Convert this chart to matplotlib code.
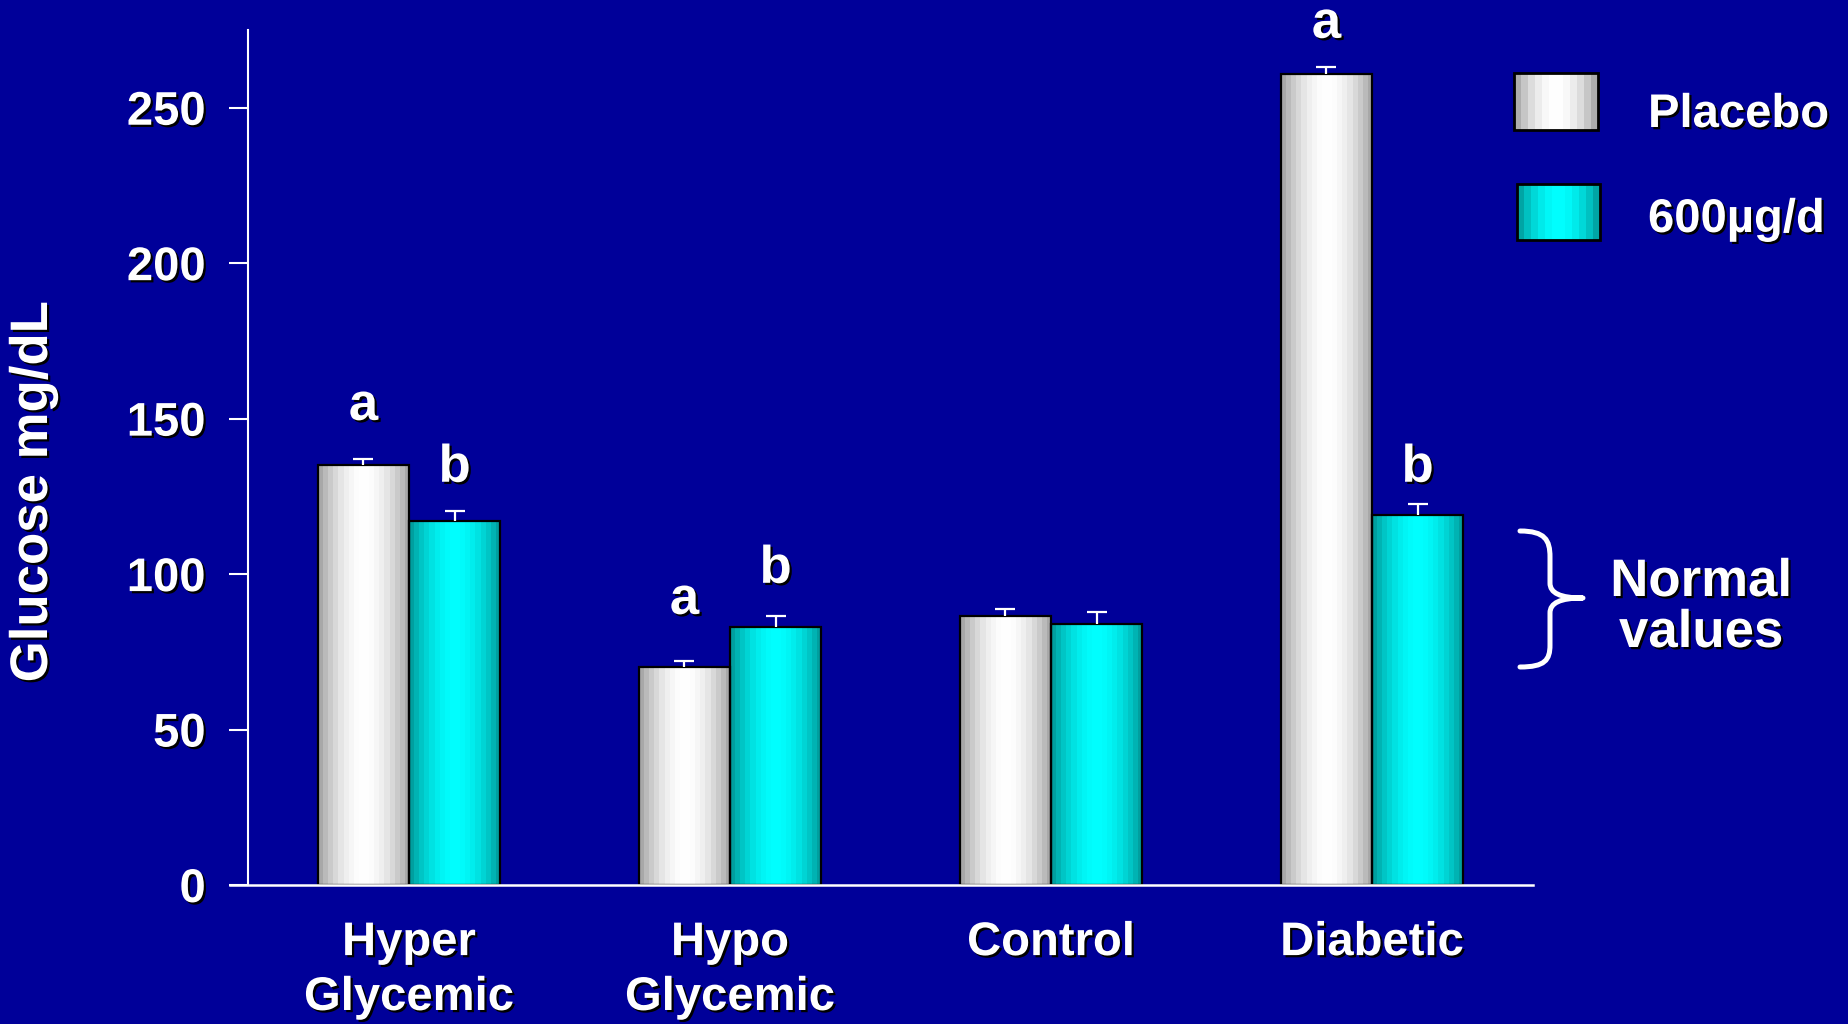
import numpy as np
import matplotlib
matplotlib.use("Agg")
import matplotlib.pyplot as plt
import matplotlib.patheffects as pe
from matplotlib.patches import Rectangle, PathPatch
from matplotlib.path import Path

# ------------------------------------------------------
# Data
# ------------------------------------------------------
groups = ["Hyper\nGlycemic", "Hypo\nGlycemic", "Control", "Diabetic"]
placebo = [135, 70, 86.5, 261]
placebo_err = [2.0, 2.0, 2.3, 2.2]
dose = [117, 83, 84, 119]
dose_err = [3.2, 3.5, 3.8, 3.4]
placebo_sig = ["a", "a", "", "a"]
dose_sig = ["b", "b", "", "b"]
placebo_sig_y = [149.6, 87.2, 0, 272.5]   # baseline of the letter
dose_sig_y = [129.7, 97.2, 0, 129.7]
series_names = ["Placebo", "600\u00b5g/d"]

BG = "#000099"
FONT = "Liberation Sans"
FS = 34
FS_BIG = 38
BAR_W = 0.284
CAP = 0.031
SHADOW = [pe.SimplePatchShadow(offset=(1.6, -1.6), shadow_rgbFace="black", alpha=1.0), pe.Normal()]

GRAY_EDGE = np.array([0.62, 0.62, 0.62])
GRAY_MID = np.array([1.0, 1.0, 1.0])
CYAN_EDGE = np.array([0.0, 0.58, 0.58])
CYAN_MID = np.array([0.0, 1.0, 1.0])


def gradient(edge, mid, steps=18):
    """Banded horizontal shading, dark at the sides and bright in the middle"""
    t = (np.arange(steps) + 0.5) / steps
    v = np.sin(np.pi * t) ** 0.9
    cols = edge[None, :] + (mid - edge)[None, :] * v[:, None]
    return cols[None, :, :]


def shaded_bar(ax, x0, w, h, edge, mid):
    ax.imshow(gradient(edge, mid), extent=[x0, x0 + w, 0, h], aspect="auto",
              interpolation="nearest", zorder=2)
    ax.add_patch(Rectangle((x0, 0), w, h, fill=False, edgecolor="black", lw=1.6, zorder=3))


def upper_err(ax, xc, val, err):
    ax.vlines(xc, val, val + err, color="white", lw=1.6, zorder=4)
    ax.hlines(val + err, xc - CAP, xc + CAP, color="white", lw=1.6, zorder=4)


fig = plt.figure(figsize=(18.48, 10.24), dpi=100, facecolor=BG)
ax = fig.add_axes([248.5 / 1848, 139 / 1024, 1284 / 1848, 855 / 1024])
ax.set_facecolor(BG)

x = np.arange(len(groups))
for i in x:
    shaded_bar(ax, i - BAR_W, BAR_W, placebo[i], GRAY_EDGE, GRAY_MID)
    shaded_bar(ax, i, BAR_W, dose[i], CYAN_EDGE, CYAN_MID)
    upper_err(ax, i - BAR_W / 2, placebo[i], placebo_err[i])
    upper_err(ax, i + BAR_W / 2, dose[i], dose_err[i])

# significance letters
for i in x:
    for xc, ys, s in [(i - BAR_W / 2, placebo_sig_y[i], placebo_sig[i]),
                      (i + BAR_W / 2, dose_sig_y[i], dose_sig[i])]:
        if s:
            ax.text(xc, ys, s, ha="center", va="baseline", color="white",
                    fontsize=FS_BIG, fontweight="bold", family=FONT, clip_on=False,
                    path_effects=SHADOW, zorder=5)

ax.set_xlim(-0.5, 3.5)
ax.set_ylim(0, 275)

for side in ["top", "right", "bottom"]:
    ax.spines[side].set_visible(False)
ax.spines["left"].set_color("white")
ax.spines["left"].set_linewidth(1.5)

# x axis line runs out under the y ticks
ax.plot([-0.558, 3.5], [0, 0], color="white", lw=1.8, clip_on=False, zorder=6)

ax.set_yticks([0, 50, 100, 150, 200, 250])
ax.tick_params(axis="y", colors="white", length=13.7, width=1.5, pad=17, labelsize=FS)
ax.set_xticks(x)
ax.set_xticklabels(groups, linespacing=1.32)
ax.tick_params(axis="x", length=0, pad=26, labelsize=FS, colors="white")
for lab in ax.get_yticklabels() + ax.get_xticklabels():
    lab.set_fontweight("bold")
    lab.set_family(FONT)
    lab.set_color("white")
    lab.set_path_effects(SHADOW)

fig.text(33 / 1848, 1 - 492 / 1024, "Glucose mg/dL", rotation=90, ha="center", va="center",
         color="white", fontsize=FS_BIG, fontweight="bold", family=FONT, path_effects=SHADOW)

# legend and bracket drawn in pixel space on top
ov = fig.add_axes([0, 0, 1, 1], facecolor="none")
ov.axis("off")

for (x0, y0, x1, y1), edge, mid in [((1514, 73, 1598, 130), GRAY_EDGE, GRAY_MID),
                                     ((1517, 184, 1600, 240), CYAN_EDGE, CYAN_MID)]:
    ov.imshow(gradient(edge, mid, 12), extent=[x0, x1, y1, y0], aspect="auto",
              interpolation="nearest", zorder=2)
    ov.add_patch(Rectangle((x0, y0), x1 - x0, y1 - y0, fill=False, edgecolor="black", lw=2, zorder=3))
ov.set_xlim(0, 1848)
ov.set_ylim(1024, 0)

for name, yc in zip(series_names, [115, 220]):
    ov.text(1648, yc, name, ha="left", va="center", color="white", fontsize=FS,
            fontweight="bold", family=FONT, path_effects=SHADOW)

brace = Path(
    [(1520, 531), (1545, 531), (1550, 540), (1550, 557),
     (1550, 583), (1550, 593), (1560, 598), (1583, 598),
     (1560, 598), (1550, 603), (1550, 613),
     (1550, 645), (1550, 660), (1545, 667), (1520, 667)],
    [Path.MOVETO, Path.CURVE4, Path.CURVE4, Path.CURVE4,
     Path.LINETO, Path.CURVE4, Path.CURVE4, Path.CURVE4,
     Path.CURVE4, Path.CURVE4, Path.CURVE4,
     Path.LINETO, Path.CURVE4, Path.CURVE4, Path.CURVE4])
ov.add_patch(PathPatch(brace, fill=False, edgecolor="white", lw=3.6, capstyle="round",
                       joinstyle="round"))

ov.text(1701, 582, "Normal", ha="center", va="center", color="white", fontsize=FS_BIG,
        fontweight="bold", family=FONT, path_effects=SHADOW)
ov.text(1701, 633, "values", ha="center", va="center", color="white", fontsize=FS_BIG,
        fontweight="bold", family=FONT, path_effects=SHADOW)

fig.savefig("out.png", dpi=100, facecolor=BG)
